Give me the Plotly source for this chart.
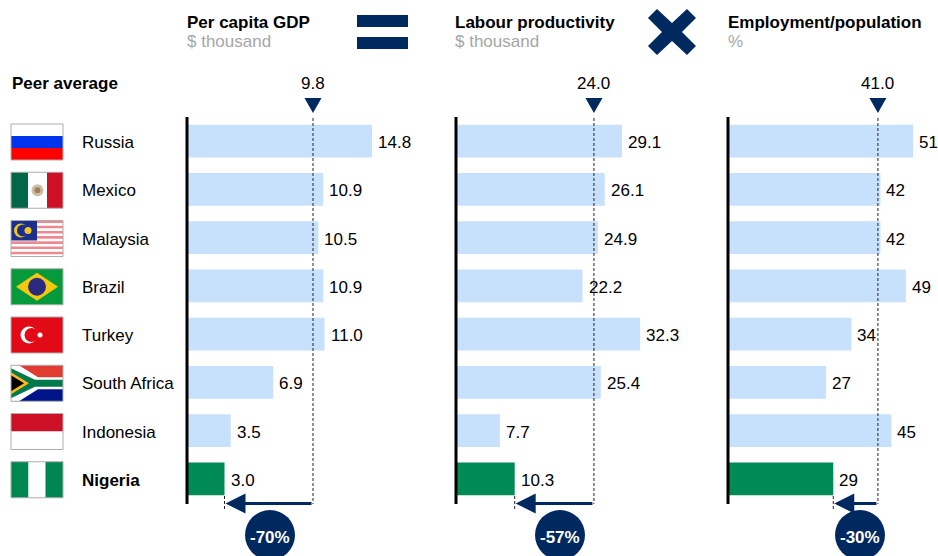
import plotly.graph_objects as go

countries = ["Russia", "Mexico", "Malaysia", "Brazil", "Turkey", "South Africa", "Indonesia", "Nigeria"]
gdp = [14.8, 10.9, 10.5, 10.9, 11.0, 6.9, 3.5, 3.0]
productivity = [29.1, 26.1, 24.9, 22.2, 32.3, 25.4, 7.7, 10.3]
employment = [51, 42, 42, 49, 34, 27, 45, 29]
gdp_labels = ["14.8", "10.9", "10.5", "10.9", "11.0", "6.9", "3.5", "3.0"]
productivity_labels = ["29.1", "26.1", "24.9", "22.2", "32.3", "25.4", "7.7", "10.3"]
employment_labels = ["51", "42", "42", "49", "34", "27", "45", "29"]
peer_labels = ["9.8", "24.0", "41.0"]
peer_marks = [10.08, 24.2, 41.3]
gaps = ["-70%", "-57%", "-30%"]
titles = ["Per capita GDP", "Labour productivity", "Employment/population"]
units = ["$ thousand", "$ thousand", "%"]

W, H = 938, 556
NAVY = "#002960"
LIGHT = "#C7E0FB"
GREEN = "#008A55"
FONT = "Liberation Sans, Arial, sans-serif"
FS = 17

def px(x): return x / W
def py(y): return 1 - y / H

TOP, BOT = 117, 503
PAD = 8
panels = [(187, 12.5, 440), (456, 5.7, 720), (728, 3.63, 938)]
centers = [142 + 48.25 * i for i in range(8)]

fig = go.Figure()
shapes, annots = [], []

def path(points, fill, close=True):
    d = "M " + " L ".join(f"{px(x):.5f},{py(y):.5f}" for x, y in points) + (" Z" if close else "")
    shapes.append(dict(type="path", path=d, xref="paper", yref="paper", fillcolor=fill, line=dict(width=0)))

def rect(x0, y0, x1, y1, fill, line=None):
    shapes.append(dict(type="rect", xref="paper", yref="paper", x0=px(x0), x1=px(x1), y0=py(y0), y1=py(y1),
                       fillcolor=fill, line=dict(width=1, color=line) if line else dict(width=0)))

def circle(cx, cy, r, fill):
    shapes.append(dict(type="circle", xref="paper", yref="paper", x0=px(cx - r), x1=px(cx + r),
                       y0=py(cy - r), y1=py(cy + r), fillcolor=fill, line=dict(width=0)))

def text(x, y, s, size=FS, color="#000000", bold=False, xanchor="left", xref="paper"):
    annots.append(dict(x=px(x) if xref == "paper" else x, y=py(y), xref=xref, yref="paper", text=f"<b>{s}</b>" if bold else s,
                       showarrow=False, xanchor=xanchor, yanchor="middle", borderpad=0,
                       xshift=-1 if xanchor == "left" else 0,
                       font=dict(family=FONT, size=size, color=color)))

series = [gdp, productivity, employment]
labels = [gdp_labels, productivity_labels, employment_labels]
for i, (vals, labs) in enumerate(zip(series, labels)):
    ax = "" if i == 0 else str(i + 1)
    colors = [LIGHT] * 7 + [GREEN]
    fig.add_trace(go.Bar(x=vals, y=list(range(8)), orientation="h", xaxis="x" + ax, yaxis="y" + ax,
                         marker=dict(color=colors, line=dict(width=0)), width=0.68,
                         showlegend=False, hoverinfo="skip"))
    x0, sc, x1 = panels[i]
    fig.update_layout({
        "xaxis" + ax: dict(domain=[px(x0 - PAD), px(x1)], range=[-PAD / sc, (x1 - x0) / sc], showgrid=False,
                           showticklabels=False, ticks="", zeroline=False, showline=False, anchor="y" + ax),
        "yaxis" + ax: dict(domain=[py(BOT), py(TOP)], range=[7.5, -0.5], showgrid=False, showticklabels=False,
                           ticks="", zeroline=False, showline=False, anchor="x" + ax),
    })
    xr = "x" + ax
    for r, (v, lab) in enumerate(zip(vals, labs)):
        annots.append(dict(x=v, y=r, xref=xr, yref="y" + ax, text=lab, showarrow=False, xanchor="left", yanchor="middle",
                           xshift=4, yshift=-1.5, font=dict(family=FONT, size=FS, color="#000000")))
    peer = peer_marks[i]
    end = vals[-1]
    shapes.append(dict(type="line", xref=xr, yref="paper", x0=0, x1=0, y0=py(TOP), y1=py(BOT + 1),
                       line=dict(color="#000000", width=3)))
    shapes.append(dict(type="line", xref=xr, yref="paper", x0=peer, x1=peer, y0=py(118), y1=py(504),
                       line=dict(color="#222222", width=1, dash="3px,2px")))
    shapes.append(dict(type="line", xref=xr, yref="paper", x0=end, x1=end, y0=py(496), y1=py(511),
                       line=dict(color="#222222", width=1, dash="3px,2px")))
    shapes.append(dict(type="path", xref=xr, yref="paper", xsizemode="pixel", ysizemode="pixel",
                       xanchor=peer, yanchor=py(98), path="M -8.5,0 L 8.5,0 L 0,-15 Z",
                       fillcolor=NAVY, line=dict(width=0)))
    text(peer, 84, peer_labels[i], xanchor="center", xref=xr)
    annots.append(dict(x=end + 1 / sc, y=py(503.5), ax=peer, ay=0, xref=xr, yref="paper", axref=xr, ayref="pixel",
                       showarrow=True, arrowhead=2, arrowsize=1.25, arrowwidth=3.2, arrowcolor=NAVY, text=""))
    cx = [270, 560, 860][i]
    circle(cx, 535, 25, NAVY)
    text(cx, 537, gaps[i], color="#FFFFFF", bold=True, xanchor="center")
    hx = [187, 455, 728][i]
    text(hx, 23, titles[i], bold=True)
    text(hx, 42, units[i], color="#A6A6A6")

text(12, 84, "Peer average", bold=True)
for name, c in zip(countries, centers):
    text(82, c + 0.5, name, bold=name == "Nigeria")

rect(357, 15, 408, 27, NAVY)
rect(357, 37, 408, 49, NAVY)
path([(648, 18), (657, 9), (672, 23), (687, 9), (696, 18), (682, 32), (696, 46), (687, 55), (672, 41), (657, 55), (648, 46), (662, 32)], NAVY)

FX0, FX1 = 11, 63
def frame(y0, y1):
    rect(FX0, y0, FX1, y1, "rgba(0,0,0,0)", "#ADADAD")

flag_tops = [c - 18 for c in centers]
y = flag_tops[0]
rect(FX0, y, FX1, y + 12, "#FFFFFF"); rect(FX0, y + 12, FX1, y + 24, "#0033EE"); rect(FX0, y + 24, FX1, y + 36, "#FF0000")
frame(y, y + 36)
y = flag_tops[1]
rect(FX0, y, FX0 + 17, y + 36, "#006847"); rect(FX0 + 17, y, FX0 + 36, y + 36, "#FFFFFF"); rect(FX0 + 36, y, FX1, y + 36, "#CE1126")
circle(FX0 + 26.5, y + 18, 6, "#CDBFA6"); circle(FX0 + 26.5, y + 18, 3, "#A07F55")
frame(y, y + 36)
y = flag_tops[2]
rect(FX0, y, FX1, y + 36, "#FFFFFF")
for k in range(0, 7):
    rect(FX0, y + k * 5.2, FX1, y + k * 5.2 + 2.6, "#EE8A8F")
rect(FX0, y, FX0 + 26, y + 20, "#1B2F8F")
circle(FX0 + 10, y + 10, 7, "#F2C81A"); circle(FX0 + 12, y + 10, 6, "#1B2F8F"); circle(FX0 + 17, y + 10, 3.5, "#F2C81A")
frame(y, y + 36)
y = flag_tops[3]
rect(FX0, y, FX1, y + 36, "#079A3C")
path([(FX0 + 5, y + 18), (FX0 + 26, y + 4), (FX0 + 47, y + 18), (FX0 + 26, y + 32)], "#F2C811")
circle(FX0 + 26, y + 18, 9, "#2B2A7E")
frame(y, y + 36)
y = flag_tops[4]
rect(FX0, y, FX1, y + 36, "#E30A17")
circle(FX0 + 18, y + 18, 8.5, "#FFFFFF"); circle(FX0 + 20.5, y + 18, 7, "#E30A17"); circle(FX0 + 29, y + 18, 2.5, "#FFFFFF")
frame(y, y + 36)
y = flag_tops[5]
rect(FX0, y, FX1, y + 18, "#E03C31"); rect(FX0, y + 18, FX1, y + 36, "#001489")
path([(FX0, y), (FX0 + 8, y), (FX0 + 27, y + 12), (FX1, y + 12), (FX1, y + 24), (FX0 + 27, y + 24), (FX0 + 8, y + 36), (FX0, y + 36)], "#FFFFFF")
path([(FX0, y + 3), (FX0 + 24, y + 14.5), (FX1, y + 14.5), (FX1, y + 21.5), (FX0 + 24, y + 21.5), (FX0, y + 33)], "#007A4D")
path([(FX0, y + 7), (FX0 + 18, y + 18), (FX0, y + 29)], "#FFB81C")
path([(FX0, y + 10), (FX0 + 13, y + 18), (FX0, y + 26)], "#000000")
frame(y, y + 36)
y = flag_tops[6]
rect(FX0, y, FX1, y + 18, "#CE1126"); rect(FX0, y + 18, FX1, y + 36, "#FFFFFF")
frame(y, y + 36)
y = flag_tops[7]
rect(FX0, y, FX0 + 17.5, y + 36, "#008751"); rect(FX0 + 17.5, y, FX0 + 34.5, y + 36, "#FFFFFF"); rect(FX0 + 34.5, y, FX1, y + 36, "#008751")
frame(y, y + 36)

fig.update_layout(width=W, height=H, margin=dict(l=0, r=0, t=0, b=0), paper_bgcolor="#FFFFFF", plot_bgcolor="rgba(0,0,0,0)",
                  shapes=shapes, annotations=annots, showlegend=False, barmode="overlay",
                  font=dict(family=FONT, size=FS))
fig.write_html("out.html", config=dict(displayModeBar=False),
               post_script="document.body.style.margin='0';document.documentElement.style.overflow='hidden';")
